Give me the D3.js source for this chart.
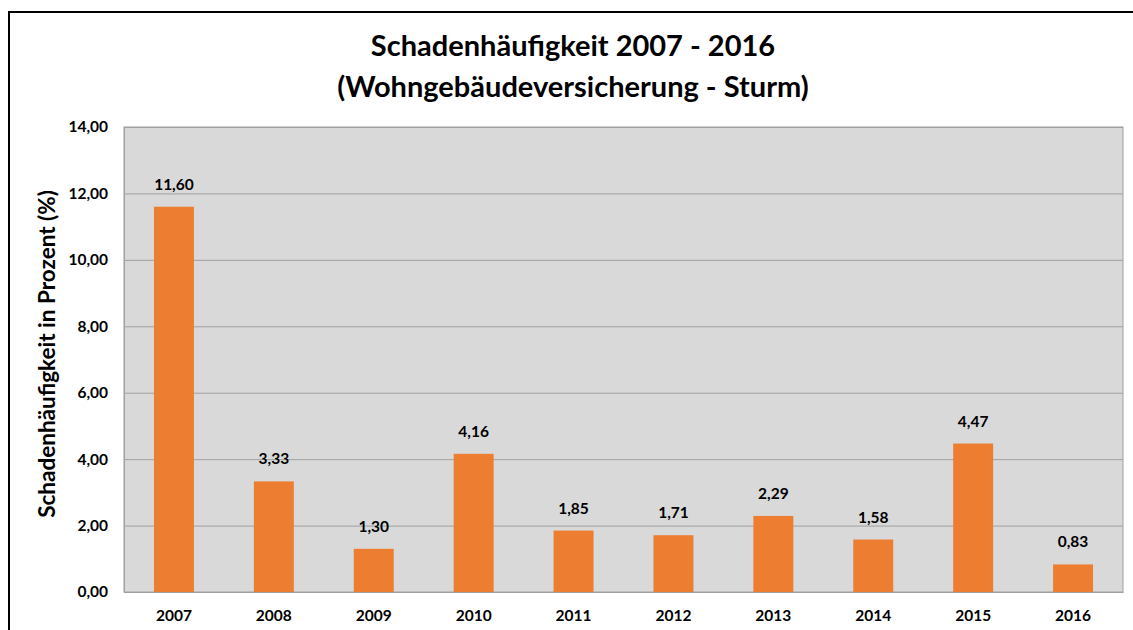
<!DOCTYPE html>
<html><head><meta charset="utf-8">
<script src="https://cdn.jsdelivr.net/npm/d3@7"></script>
<style>body{margin:0;background:#fff;} svg{display:block;font-family:Lato,"Open Sans",sans-serif;}</style>
</head><body>
<svg id="c" width="1133" height="630"></svg>
<script>
const categories = ["2007","2008","2009","2010","2011","2012","2013","2014","2015","2016"];
const values = [11.60,3.33,1.30,4.16,1.85,1.71,2.29,1.58,4.47,0.83];
const yTicks = [0,2,4,6,8,10,12,14];
const titleLines = ["Schadenhäufigkeit 2007 - 2016","(Wohngebäudeversicherung - Sturm)"];
const yTitle = "Schadenhäufigkeit in Prozent (%)";

const svg = d3.select("#c");
const fmt = v => d3.format(".2f")(v).replace(".", ",");
const m = {left:124, right:1123, top:127, bottom:592};

// outer frame
svg.append("rect").attr("x",9).attr("y",12).attr("width",1140).attr("height",640)
  .attr("fill","none").attr("stroke","#000").attr("stroke-width",2);

const x = d3.scaleBand().domain(categories).range([m.left,m.right]).paddingInner(0.6).paddingOuter(0.3);
const y = d3.scaleLinear().domain([0,14]).range([m.bottom,m.top]);

svg.append("rect").attr("x",m.left).attr("y",m.top).attr("width",m.right-m.left).attr("height",m.bottom-m.top)
  .attr("fill","#d9d9d9").attr("stroke","#a0a0a0").attr("stroke-width",1);

const yAxis = svg.append("g").attr("transform",`translate(${m.left},0)`)
  .call(d3.axisLeft(y).tickValues(yTicks).tickFormat(fmt).tickSize(-(m.right-m.left)).tickPadding(16));
yAxis.select(".domain").attr("stroke","#a0a0a0");
yAxis.selectAll(".tick line").attr("stroke","#a0a0a0");
yAxis.selectAll("text").attr("font-size",15.5).attr("font-weight","bold").attr("fill","#000").attr("font-family","Lato");

svg.selectAll(".bar").data(values).enter().append("rect")
  .attr("x",(d,i)=>x(categories[i])).attr("width",x.bandwidth())
  .attr("y",d=>y(d)).attr("height",d=>y(0)-y(d)).attr("fill","#ed7d31");

svg.selectAll(".lbl").data(values).enter().append("text")
  .attr("x",(d,i)=>x(categories[i])+x.bandwidth()/2).attr("y",d=>y(d)-17)
  .attr("text-anchor","middle").attr("font-size",15.5).attr("font-weight","bold").attr("fill","#000")
  .text(fmt);

const xAxis = svg.append("g").attr("transform",`translate(0,${m.bottom})`)
  .call(d3.axisBottom(x).tickSize(0).tickPadding(18));
xAxis.select(".domain").attr("stroke","#a0a0a0");
xAxis.selectAll("text").attr("font-size",15.5).attr("font-weight","bold").attr("fill","#000").attr("font-family","Lato");

svg.append("text").attr("x",573).attr("y",56).attr("text-anchor","middle")
  .attr("font-size",29).attr("font-weight","bold").text(titleLines[0]);
svg.append("text").attr("x",573).attr("y",97).attr("text-anchor","middle")
  .attr("font-size",29).attr("font-weight","bold").text(titleLines[1]);

svg.append("text").attr("transform",`translate(55,354) rotate(-90)`).attr("text-anchor","middle")
  .attr("font-size",22.5).attr("font-weight","bold").text(yTitle);
</script>
</body></html>
